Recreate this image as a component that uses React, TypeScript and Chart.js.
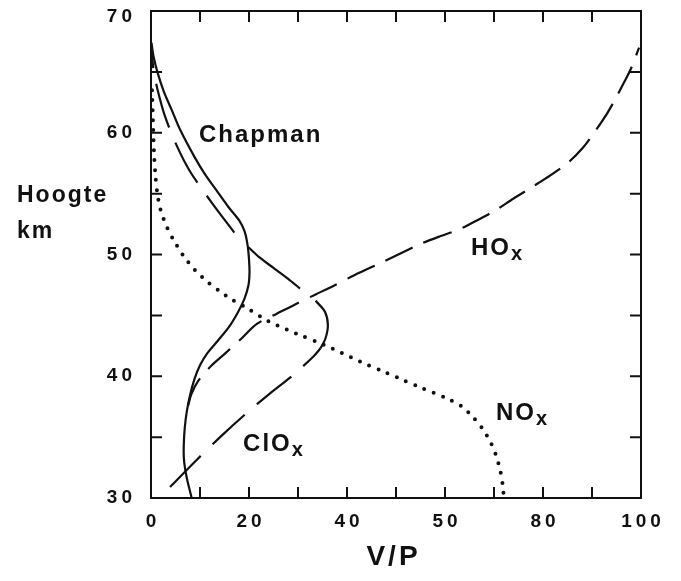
import React, { useEffect, useRef } from "react";
import { Chart, registerables } from "chart.js";

Chart.register(...registerables);

// ---- axis ticks ----
const xTickValues = [0, 20, 40, 60, 80, 100];
const xTickLabels = ["0", "20", "40", "50", "80", "100"];
const yTickValues = [30, 40, 50, 60, 70];
const yTickLabels = ["30", "40", "50", "60", "70"];
const xMinorTickValues = [0, 10, 20, 30, 40, 50, 60, 70, 80, 90, 100];
const yMinorTickValues = [30, 35, 40, 45, 50, 55, 60, 65, 70];

// ---- series (x = V/P, y = Hoogte km) ----
const chapman: [number, number][] = [
  [0.1, 67.4], [0.5, 66.3], [1.3, 65.0], [2.6, 63.4], [4.2, 61.9], [6.0, 60.2],
  [8.9, 58.0], [11.0, 56.6], [13.3, 55.3], [15.8, 53.9], [18.0, 52.8], [19.1, 51.9],
  [19.7, 50.8], [20.0, 49.6], [20.1, 48.5], [19.9, 47.5], [19.1, 46.4], [17.8, 45.3],
  [16.0, 44.1], [13.6, 42.9], [11.5, 41.9], [10.0, 40.9], [8.9, 39.8], [8.0, 38.5],
  [7.3, 37.1], [6.9, 35.8], [6.7, 34.5], [6.7, 33.3], [7.0, 32.3], [7.5, 31.3],
  [8.0, 30.5], [8.3, 30.0],
];

const nox: [number, number][] = [
  [0.2, 63.5], [0.4, 61.0], [0.6, 58.5], [0.9, 56.5], [1.3, 55.0], [1.8, 53.9],
  [2.5, 53.0], [3.3, 52.2], [4.6, 51.2], [6.6, 49.9], [9.0, 48.7], [11.4, 47.8],
  [14.0, 47.0], [16.5, 46.3], [20.0, 45.5], [23.6, 44.6], [29.7, 43.5], [35.2, 42.6],
  [42.7, 41.2], [47.4, 40.4], [50.8, 39.8], [54.9, 39.1], [60.3, 38.2], [63.5, 37.5],
  [65.8, 36.6], [67.8, 35.6], [69.4, 34.5], [70.5, 33.4], [71.3, 32.2], [71.8, 31.0],
  [72.0, 30.0],
];

const hox: [number, number][] = [
  [7.6, 37.6], [8.2, 38.5], [9.6, 39.6], [12.4, 40.9], [15.2, 41.9], [18.2, 43.0],
  [21.6, 44.3], [25.5, 45.1], [29.4, 45.9], [33.5, 46.7], [37.6, 47.5], [42.5, 48.5],
  [47.4, 49.4], [51.0, 50.1], [54.6, 50.8], [59.0, 51.5], [63.1, 52.1], [66.5, 52.8],
  [70.2, 53.6], [74.0, 54.6], [78.0, 55.6], [81.5, 56.5], [85.0, 57.5], [88.0, 58.7],
  [90.6, 60.1], [92.8, 61.4], [94.8, 62.8], [96.5, 64.1], [98.1, 65.4], [99.6, 67.0],
];

const cloxLower: [number, number][] = [
  [3.9, 30.9], [9.0, 33.0], [14.1, 35.0], [19.0, 36.8], [24.3, 38.6], [29.0, 40.1],
  [33.1, 41.6], [34.6, 42.3],
];
const cloxBend: [number, number][] = [
  [34.6, 42.3], [35.6, 43.1], [36.1, 44.2], [35.5, 45.3], [33.6, 46.2],
];
const cloxBridge: [number, number][] = [
  [30.4, 47.2], [28.0, 48.0], [25.0, 48.9], [22.0, 49.8], [19.9, 50.6],
];
const cloxUpper: [number, number][] = [
  [17.0, 51.8], [12.5, 54.2], [8.0, 56.8], [5.3, 58.9], [2.9, 61.3], [1.3, 63.6],
  [0.5, 65.2], [0.2, 66.4],
];

// ---- text ----
const xTitle = "V/P";
const yTitleLines = ["Hoogte", "km"];
const seriesLabels = [
  { main: "Chapman", sub: "" },
  { main: "HO", sub: "x" },
  { main: "NO", sub: "x" },
  { main: "ClO", sub: "x" },
];
// label anchors (data coordinates, left/baseline)
const seriesLabelAnchors = [
  { x: 9.8, y: 59.2 },
  { x: 65.3, y: 50.0 },
  { x: 70.4, y: 36.4 },
  { x: 18.8, y: 33.9 },
];

const FONT = '"Liberation Sans", Arial, Helvetica, sans-serif';
const INK = "#111111";

const toXY = (arr: [number, number][]) => arr.map(([x, y]) => ({ x, y }));

function drawSpaced(
  ctx: CanvasRenderingContext2D,
  text: string,
  x: number,
  y: number,
  font: string,
  spacing: number,
  align: "left" | "center" | "right",
  baseline: CanvasTextBaseline = "alphabetic"
) {
  ctx.font = font;
  (ctx as any).letterSpacing = spacing + "px";
  ctx.textAlign = "left";
  ctx.textBaseline = baseline;
  const w = ctx.measureText(text).width;
  let sx = x;
  if (align === "center") sx = x - (w - spacing) / 2;
  if (align === "right") sx = x - (w - spacing);
  ctx.fillText(text, sx, y);
  return w;
}

const framePlugin = {
  id: "frame",
  afterDatasetsDraw(chart: any) {
    const { ctx, chartArea: a, scales } = chart;
    const xs = scales.x;
    const ys = scales.y;
    ctx.save();
    ctx.strokeStyle = INK;
    ctx.lineWidth = 2;
    ctx.strokeRect(a.left, a.top, a.right - a.left, a.bottom - a.top);
    const L = 11;
    ctx.beginPath();
    xMinorTickValues.forEach((v) => {
      const px = xs.getPixelForValue(v);
      ctx.moveTo(px, a.bottom);
      ctx.lineTo(px, a.bottom - L);
      ctx.moveTo(px, a.top);
      ctx.lineTo(px, a.top + L);
    });
    yMinorTickValues.forEach((v) => {
      const py = ys.getPixelForValue(v);
      ctx.moveTo(a.left, py);
      ctx.lineTo(a.left + L, py);
      ctx.moveTo(a.right, py);
      ctx.lineTo(a.right - L, py);
    });
    ctx.stroke();
    ctx.restore();
  },
};

const textPlugin = {
  id: "texts",
  afterDraw(chart: any) {
    const { ctx, scales, chartArea: a } = chart;
    const xs = scales.x;
    const ys = scales.y;
    ctx.save();
    ctx.fillStyle = INK;
    const tickFont = `bold 19px ${FONT}`;
    // y tick labels
    yTickValues.forEach((v, i) => {
      const py = Math.max(ys.getPixelForValue(v), a.top + 6);
      drawSpaced(ctx, yTickLabels[i], a.left - 19, py, tickFont, 4, "right", "middle");
    });
    // x tick labels
    xTickValues.forEach((v, i) => {
      const px = xs.getPixelForValue(v);
      drawSpaced(ctx, xTickLabels[i], px, a.bottom + 24, tickFont, 4, "center", "middle");
    });
    // y title (horizontal, two lines)
    drawSpaced(ctx, yTitleLines[0], 9, 202, `bold 23px ${FONT}`, 2, "left");
    drawSpaced(ctx, yTitleLines[1], 9, 238, `bold 23px ${FONT}`, 2, "left");
    // x title
    drawSpaced(ctx, xTitle, 384, 565, `bold 28px ${FONT}`, 3, "center");
    // series labels
    seriesLabels.forEach((lab, i) => {
      const anc = seriesLabelAnchors[i];
      const px = xs.getPixelForValue(anc.x);
      const py = ys.getPixelForValue(anc.y);
      const w = drawSpaced(ctx, lab.main, px, py, `bold 24px ${FONT}`, 2, "left");
      if (lab.sub) {
        drawSpaced(ctx, lab.sub, px + w, py + 5, `bold 20px ${FONT}`, 0, "left");
      }
    });
    (ctx as any).letterSpacing = "0px";
    ctx.restore();
  },
};

export default function App() {
  const canvasRef = useRef<HTMLCanvasElement | null>(null);

  useEffect(() => {
    const canvas = canvasRef.current;
    if (!canvas) return;
    const line = (data: [number, number][], dash: number[], width = 2) => ({
      data: toXY(data),
      showLine: true,
      borderColor: INK,
      backgroundColor: INK,
      borderWidth: width,
      borderDash: dash,
      pointRadius: 0,
      tension: 0.3,
      fill: false,
    });
    const chart = new Chart(canvas, {
      type: "scatter",
      data: {
        datasets: [
          { label: "Chapman", ...line(chapman, [], 2.2) },
          { label: "HOx", ...line(hox, [30, 12], 2.2) },
          {
            label: "NOx",
            ...line(nox, [0, 10], 4),
            borderCapStyle: "round",
          },
          { label: "ClOx", ...line(cloxLower, [44, 16], 2.2) },
          { label: "ClOx", ...line(cloxBend, [], 2.2) },
          { label: "ClOx", ...line(cloxBridge, [], 2.2) },
          { label: "ClOx", ...line(cloxUpper, [46, 16], 2.2) },
        ] as any,
      },
      options: {
        responsive: false,
        animation: false,
        events: [],
        layout: { padding: { top: 11, right: 32, bottom: 0, left: 0 } },
        plugins: {
          legend: { display: false },
          tooltip: { enabled: false },
        },
        scales: {
          x: {
            type: "linear",
            min: 0,
            max: 100,
            afterBuildTicks: (axis: any) => {
              axis.ticks = xTickValues.map((value) => ({ value }));
            },
            afterFit: (s: any) => {
              s.height = 75;
              s.paddingLeft = 0;
              s.paddingRight = 0;
            },
            ticks: { display: false },
            grid: { display: false, drawTicks: false },
            border: { display: false },
          },
          y: {
            type: "linear",
            min: 30,
            max: 70,
            afterBuildTicks: (axis: any) => {
              axis.ticks = yTickValues.map((value) => ({ value }));
            },
            afterFit: (s: any) => {
              s.width = 143;
              s.paddingTop = 0;
              s.paddingBottom = 0;
            },
            ticks: { display: false },
            grid: { display: false, drawTicks: false },
            border: { display: false },
          },
        },
      } as any,
      plugins: [framePlugin, textPlugin],
    });
    return () => chart.destroy();
  }, []);

  return (
    <div style={{ width: 665, height: 573, marginTop: -8 }}>
      <canvas
        ref={canvasRef}
        width={665}
        height={573}
        style={{ display: "block", width: 665, height: 573 }}
      />
    </div>
  );
}
